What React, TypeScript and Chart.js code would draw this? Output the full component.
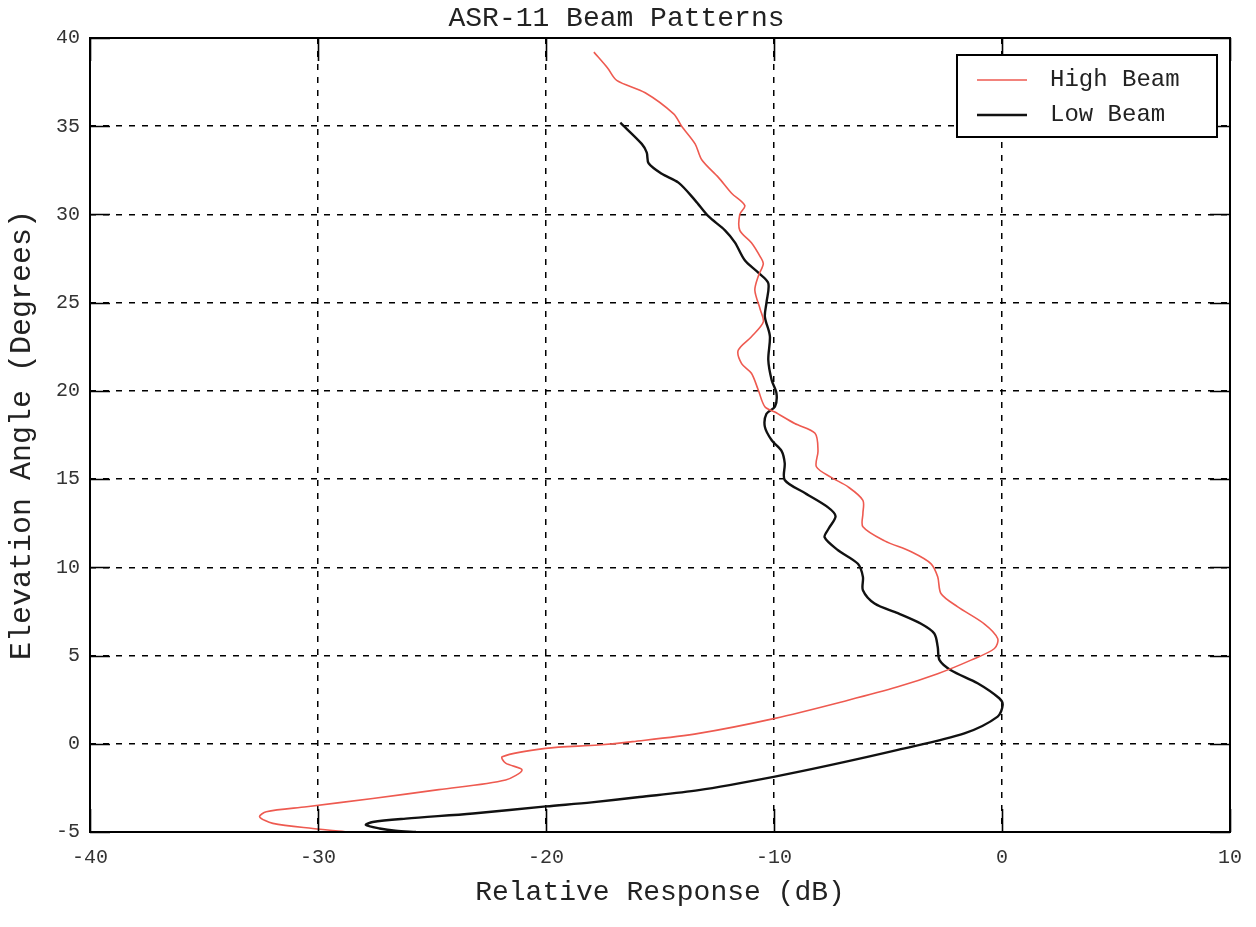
import React, { useEffect, useRef } from "react";
import { Chart, registerables } from "chart.js";

Chart.register(...registerables);

const FONT = '"Liberation Mono", "DejaVu Sans Mono", monospace';

const chartTitle = "ASR-11 Beam Patterns";
const xAxisTitle = "Relative Response (dB)";
const yAxisTitle = "Elevation Angle (Degrees)";
const seriesNames = ["High Beam", "Low Beam"];
const seriesColors = ["#ee5a50", "#111111"];
const seriesWidths = [1.6, 2.4];

const xMin = -40;
const xMax = 10;
const xStep = 10;
const yMin = -5;
const yMax = 40;
const yStep = 5;

// High beam (red) — traced from top to bottom
const highX = [
  -17.9, -17.3, -16.9, -15.65, -14.4, -14.05, -13.46, -13.17, -12.44, -11.86,
  -11.28, -11.5, -11.5, -10.99, -10.6, -10.47, -10.69, -10.84, -10.6, -10.47,
  -10.99, -11.57, -11.42, -10.99, -10.69, -10.4, -9.96, -9.09, -8.2, -8.07,
  -8.14, -7.49, -6.75, -6.1, -6.1, -6.1, -5.15, -3.98, -3.11, -2.82,
  -2.67, -1.94, -0.78, -0.19, -0.33, -1.36, -2.82, -4.57, -6.75, -9.96,
  -13.3, -16.2, -17.7, -20.02, -21.92, -21.77, -21.05, -21.77, -24.7, -27.6,
  -30.5, -32.27, -32.56, -31.98, -30.23, -28.6,
];
const highY = [
  39.2, 38.3, 37.6, 36.9, 35.7, 35.0, 34.0, 33.1, 32.1, 31.2,
  30.5, 30.0, 29.1, 28.4, 27.6, 27.2, 26.5, 25.7, 24.6, 23.9,
  23.07, 22.3, 21.55, 21.0, 20.05, 19.1, 18.8, 18.15, 17.6, 16.6,
  15.7, 15.1, 14.56, 13.8, 13.05, 12.3, 11.5, 10.88, 10.2, 9.46,
  8.5, 7.76, 6.8, 5.97, 5.4, 4.74, 3.97, 3.23, 2.47, 1.44,
  0.59, 0.12, -0.07, -0.26, -0.73, -1.1, -1.48, -2.05, -2.6, -3.1,
  -3.57, -3.85, -4.14, -4.51, -4.8, -5.0,
];

// Low beam (black) — traced from top to bottom
const lowX = [
  -16.74, -15.8, -15.58, -15.5, -14.92, -14.19, -13.46, -12.88, -12.15, -11.71,
  -11.28, -10.69, -10.25, -10.33, -10.4, -10.18, -10.25, -10.1, -9.89, -9.96,
  -10.33, -10.4, -10.1, -9.67, -9.53, -9.53, -8.63, -7.63, -7.3, -7.6,
  -7.78, -7.19, -6.32, -6.1, -6.1, -5.59, -4.57, -3.55, -2.97, -2.82,
  -2.74, -2.24, -1.07, -0.12, 0.03, -0.19, -1.65, -4.57, -7.49, -9.96,
  -13.3, -15.9, -18.0, -20.0, -23.2, -26.15, -27.6, -27.9, -27.3, -26.6,
  -25.7,
];
const lowY = [
  35.2, 34.0, 33.5, 32.9, 32.3, 31.8, 30.8, 29.9, 29.1, 28.4,
  27.4, 26.7, 26.1, 25.0, 24.2, 23.1, 21.75, 20.6, 19.85, 19.1,
  18.7, 17.96, 17.2, 16.6, 15.9, 14.95, 14.2, 13.4, 12.9, 12.2,
  11.7, 10.97, 10.2, 9.46, 8.7, 7.95, 7.4, 6.8, 6.25, 5.5,
  4.74, 4.17, 3.43, 2.58, 2.2, 1.54, 0.59, -0.35, -1.2, -1.86,
  -2.63, -3.02, -3.32, -3.55, -3.95, -4.24, -4.43, -4.6, -4.8, -4.93,
  -5.0,
];

const toPoints = (xs: number[], ys: number[]) => xs.map((x, i) => ({ x, y: ys[i] }));

const framePlugin = {
  id: "frameTicksLegend",
  afterDatasetsDraw(chart: any) {
    const { ctx, chartArea } = chart;
    const { left, right, top, bottom } = chartArea;
    const xs = chart.scales.x;
    const ys = chart.scales.y;
    ctx.save();
    ctx.strokeStyle = "#000";
    ctx.lineWidth = 1.6;
    ctx.setLineDash([]);
    // inward ticks
    ctx.beginPath();
    for (let v = xMin; v <= xMax; v += xStep) {
      const px = Math.round(xs.getPixelForValue(v)) + 0.5;
      ctx.moveTo(px, bottom);
      ctx.lineTo(px, bottom - 23);
      ctx.moveTo(px, top);
      ctx.lineTo(px, top + 23);
    }
    for (let v = yMin; v <= yMax; v += yStep) {
      const py = Math.round(ys.getPixelForValue(v)) + 0.5;
      ctx.moveTo(left, py);
      ctx.lineTo(left + 20, py);
      ctx.moveTo(right, py);
      ctx.lineTo(right - 20, py);
    }
    ctx.stroke();
    // frame
    ctx.lineWidth = 2;
    ctx.strokeRect(left, top, right - left, bottom - top);

    // legend box
    const bw = 260;
    const bh = 82;
    const bx = right - 13 - bw;
    const by = top + 17;
    ctx.fillStyle = "#fff";
    ctx.fillRect(bx, by, bw, bh);
    ctx.lineWidth = 2;
    ctx.strokeStyle = "#000";
    ctx.strokeRect(bx, by, bw, bh);
    ctx.font = `24px ${FONT}`;
    ctx.textBaseline = "middle";
    ctx.textAlign = "left";
    chart.data.datasets.forEach((ds: any, i: number) => {
      const cy = by + 25 + i * 35;
      ctx.beginPath();
      ctx.strokeStyle = ds.borderColor;
      ctx.lineWidth = ds.borderWidth;
      ctx.moveTo(bx + 20, cy);
      ctx.lineTo(bx + 70, cy);
      ctx.stroke();
      ctx.fillStyle = "#222";
      ctx.fillText(ds.label, bx + 93, cy);
    });
    ctx.restore();
  },
};

const edgeColor = (min: number, max: number) => (c: any) =>
  c.tick && (c.tick.value === min || c.tick.value === max) ? "rgba(0,0,0,0)" : "#000";

export default function App() {
  const ref = useRef<HTMLCanvasElement | null>(null);

  useEffect(() => {
    if (!ref.current) return;
    const chart = new Chart(ref.current, {
      type: "scatter",
      data: {
        datasets: [
          {
            label: seriesNames[0],
            data: toPoints(highX, highY),
            showLine: true,
            borderColor: seriesColors[0],
            backgroundColor: seriesColors[0],
            borderWidth: seriesWidths[0],
            pointRadius: 0,
            tension: 0.3,
          },
          {
            label: seriesNames[1],
            data: toPoints(lowX, lowY),
            showLine: true,
            borderColor: seriesColors[1],
            backgroundColor: seriesColors[1],
            borderWidth: seriesWidths[1],
            pointRadius: 0,
            tension: 0.3,
          },
        ],
      },
      options: {
        responsive: false,
        animation: false,
        layout: { padding: { left: 0, right: 23, top: 0, bottom: 0 } },
        plugins: {
          legend: { display: false },
          tooltip: { enabled: false },
          title: {
            display: true,
            text: chartTitle,
            color: "#222",
            font: { family: FONT, size: 28, weight: "normal", lineHeight: 1.0 },
            padding: { top: 5, bottom: 5 },
          },
        },
        scales: {
          x: {
            type: "linear",
            min: xMin,
            max: xMax,
            afterFit: (s: any) => {
              s.height = 95;
            },
            ticks: {
              stepSize: xStep,
              autoSkip: false,
              maxRotation: 0,
              padding: 14,
              color: "#333",
              font: { family: FONT, size: 20 },
            },
            grid: { color: edgeColor(xMin, xMax), lineWidth: 1.5, drawTicks: false },
            border: { display: false, dash: [6, 7] },
            title: {
              display: true,
              text: xAxisTitle,
              color: "#222",
              font: { family: FONT, size: 28 },
              padding: { top: 0, bottom: 18 },
            },
          },
          y: {
            type: "linear",
            min: yMin,
            max: yMax,
            afterFit: (s: any) => {
              s.width = 90;
            },
            ticks: {
              stepSize: yStep,
              autoSkip: false,
              padding: 10,
              color: "#333",
              font: { family: FONT, size: 20 },
            },
            grid: { color: edgeColor(yMin, yMax), lineWidth: 1.5, drawTicks: false },
            border: { display: false, dash: [6, 7] },
            title: {
              display: true,
              text: yAxisTitle,
              color: "#222",
              font: { family: FONT, size: 30 },
              padding: { top: 4, bottom: 0 },
            },
          },
        },
      },
      plugins: [framePlugin],
    });
    return () => chart.destroy();
  }, []);

  return (
    <div style={{ position: "fixed", left: 0, top: 0, width: 1256, height: 927, background: "#fff" }}>
      <canvas ref={ref} width={1256} height={927} style={{ display: "block" }} />
    </div>
  );
}
